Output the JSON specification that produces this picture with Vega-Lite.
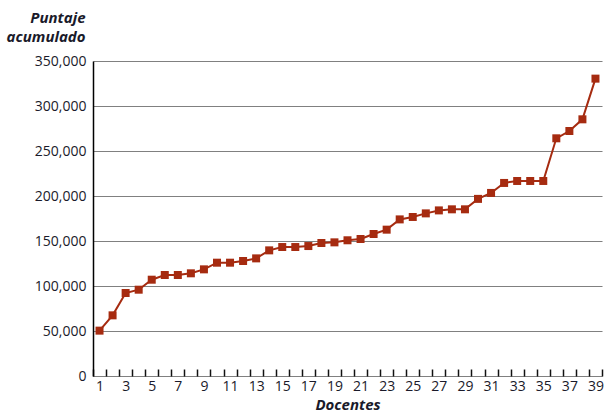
{
  "$schema": "https://vega.github.io/schema/vega-lite/v6.json",
  "width": 509,
  "height": 315,
  "autosize": {"type": "none"},
  "padding": {"left": 93, "top": 61, "right": 5, "bottom": 39},
  "background": "white",
  "config": {
    "view": {"stroke": null},
    "font": "Open Sans",
    "axis": {"labelFont": "Open Sans", "labelColor": "#1a1a2a", "labelFontSize": 14, "titleFont": "Open Sans", "titleColor": "#1a1a2a"}
  },
  "data": {
    "values": [
      {"docente": 1, "puntaje": 50400},
      {"docente": 2, "puntaje": 67400},
      {"docente": 3, "puntaje": 92200},
      {"docente": 4, "puntaje": 95900},
      {"docente": 5, "puntaje": 107000},
      {"docente": 6, "puntaje": 112200},
      {"docente": 7, "puntaje": 112200},
      {"docente": 8, "puntaje": 114100},
      {"docente": 9, "puntaje": 118500},
      {"docente": 10, "puntaje": 125900},
      {"docente": 11, "puntaje": 125900},
      {"docente": 12, "puntaje": 127800},
      {"docente": 13, "puntaje": 130700},
      {"docente": 14, "puntaje": 139600},
      {"docente": 15, "puntaje": 143300},
      {"docente": 16, "puntaje": 143300},
      {"docente": 17, "puntaje": 144400},
      {"docente": 18, "puntaje": 147800},
      {"docente": 19, "puntaje": 148500},
      {"docente": 20, "puntaje": 150800},
      {"docente": 21, "puntaje": 152200},
      {"docente": 22, "puntaje": 157800},
      {"docente": 23, "puntaje": 162600},
      {"docente": 24, "puntaje": 174000},
      {"docente": 25, "puntaje": 176700},
      {"docente": 26, "puntaje": 180700},
      {"docente": 27, "puntaje": 184000},
      {"docente": 28, "puntaje": 185200},
      {"docente": 29, "puntaje": 185200},
      {"docente": 30, "puntaje": 196800},
      {"docente": 31, "puntaje": 203400},
      {"docente": 32, "puntaje": 214500},
      {"docente": 33, "puntaje": 216700},
      {"docente": 34, "puntaje": 216700},
      {"docente": 35, "puntaje": 216700},
      {"docente": 36, "puntaje": 264100},
      {"docente": 37, "puntaje": 272200},
      {"docente": 38, "puntaje": 285200},
      {"docente": 39, "puntaje": 330400}
    ]
  },
  "mark": {
    "type": "line",
    "color": "#A62B10",
    "strokeWidth": 2,
    "point": {"shape": "square", "filled": true, "size": 64, "color": "#A62B10", "opacity": 1}
  },
  "encoding": {
    "x": {
      "field": "docente",
      "type": "ordinal",
      "bandPosition": 0.5,
      "scale": {"type": "band", "paddingInner": 0, "paddingOuter": 0},
      "axis": {
        "title": "Docentes",
        "titleFontStyle": "italic",
        "titleFontWeight": "bold",
        "titleFontSize": 15,
        "titleBaseline": "alphabetic",
        "titleY": 40,
        "labelAngle": 0,
        "labelExpr": "datum.value % 2 == 1 ? datum.label : ''",
        "labelPadding": 3,
        "offset": -7,
        "ticks": true,
        "tickBand": "extent",
        "tickSize": 7,
        "tickColor": "#111111",
        "tickWidth": 1.5,
        "tickOpacity": 1,
        "domain": false,
        "grid": false
      }
    },
    "y": {
      "field": "puntaje",
      "type": "quantitative",
      "scale": {"domain": [0, 350000], "nice": false},
      "axis": {
        "title": ["Puntaje", "acumulado"],
        "titleFontStyle": "italic",
        "titleFontWeight": "bold",
        "titleFontSize": 15,
        "titleAngle": 0,
        "titleAlign": "right",
        "titleBaseline": "alphabetic",
        "titleLineHeight": 19,
        "titleX": -8,
        "titleY": -39,
        "values": [0, 50000, 100000, 150000, 200000, 250000, 300000, 350000],
        "labelExpr": "format(datum.value, ',d')",
        "ticks": false,
        "labelPadding": 7,
        "domainColor": "#000000",
        "domainWidth": 1.5,
        "grid": true,
        "gridColor": "#808080",
        "gridWidth": 1.2,
        "gridOpacity": 1
      }
    }
  }
}
